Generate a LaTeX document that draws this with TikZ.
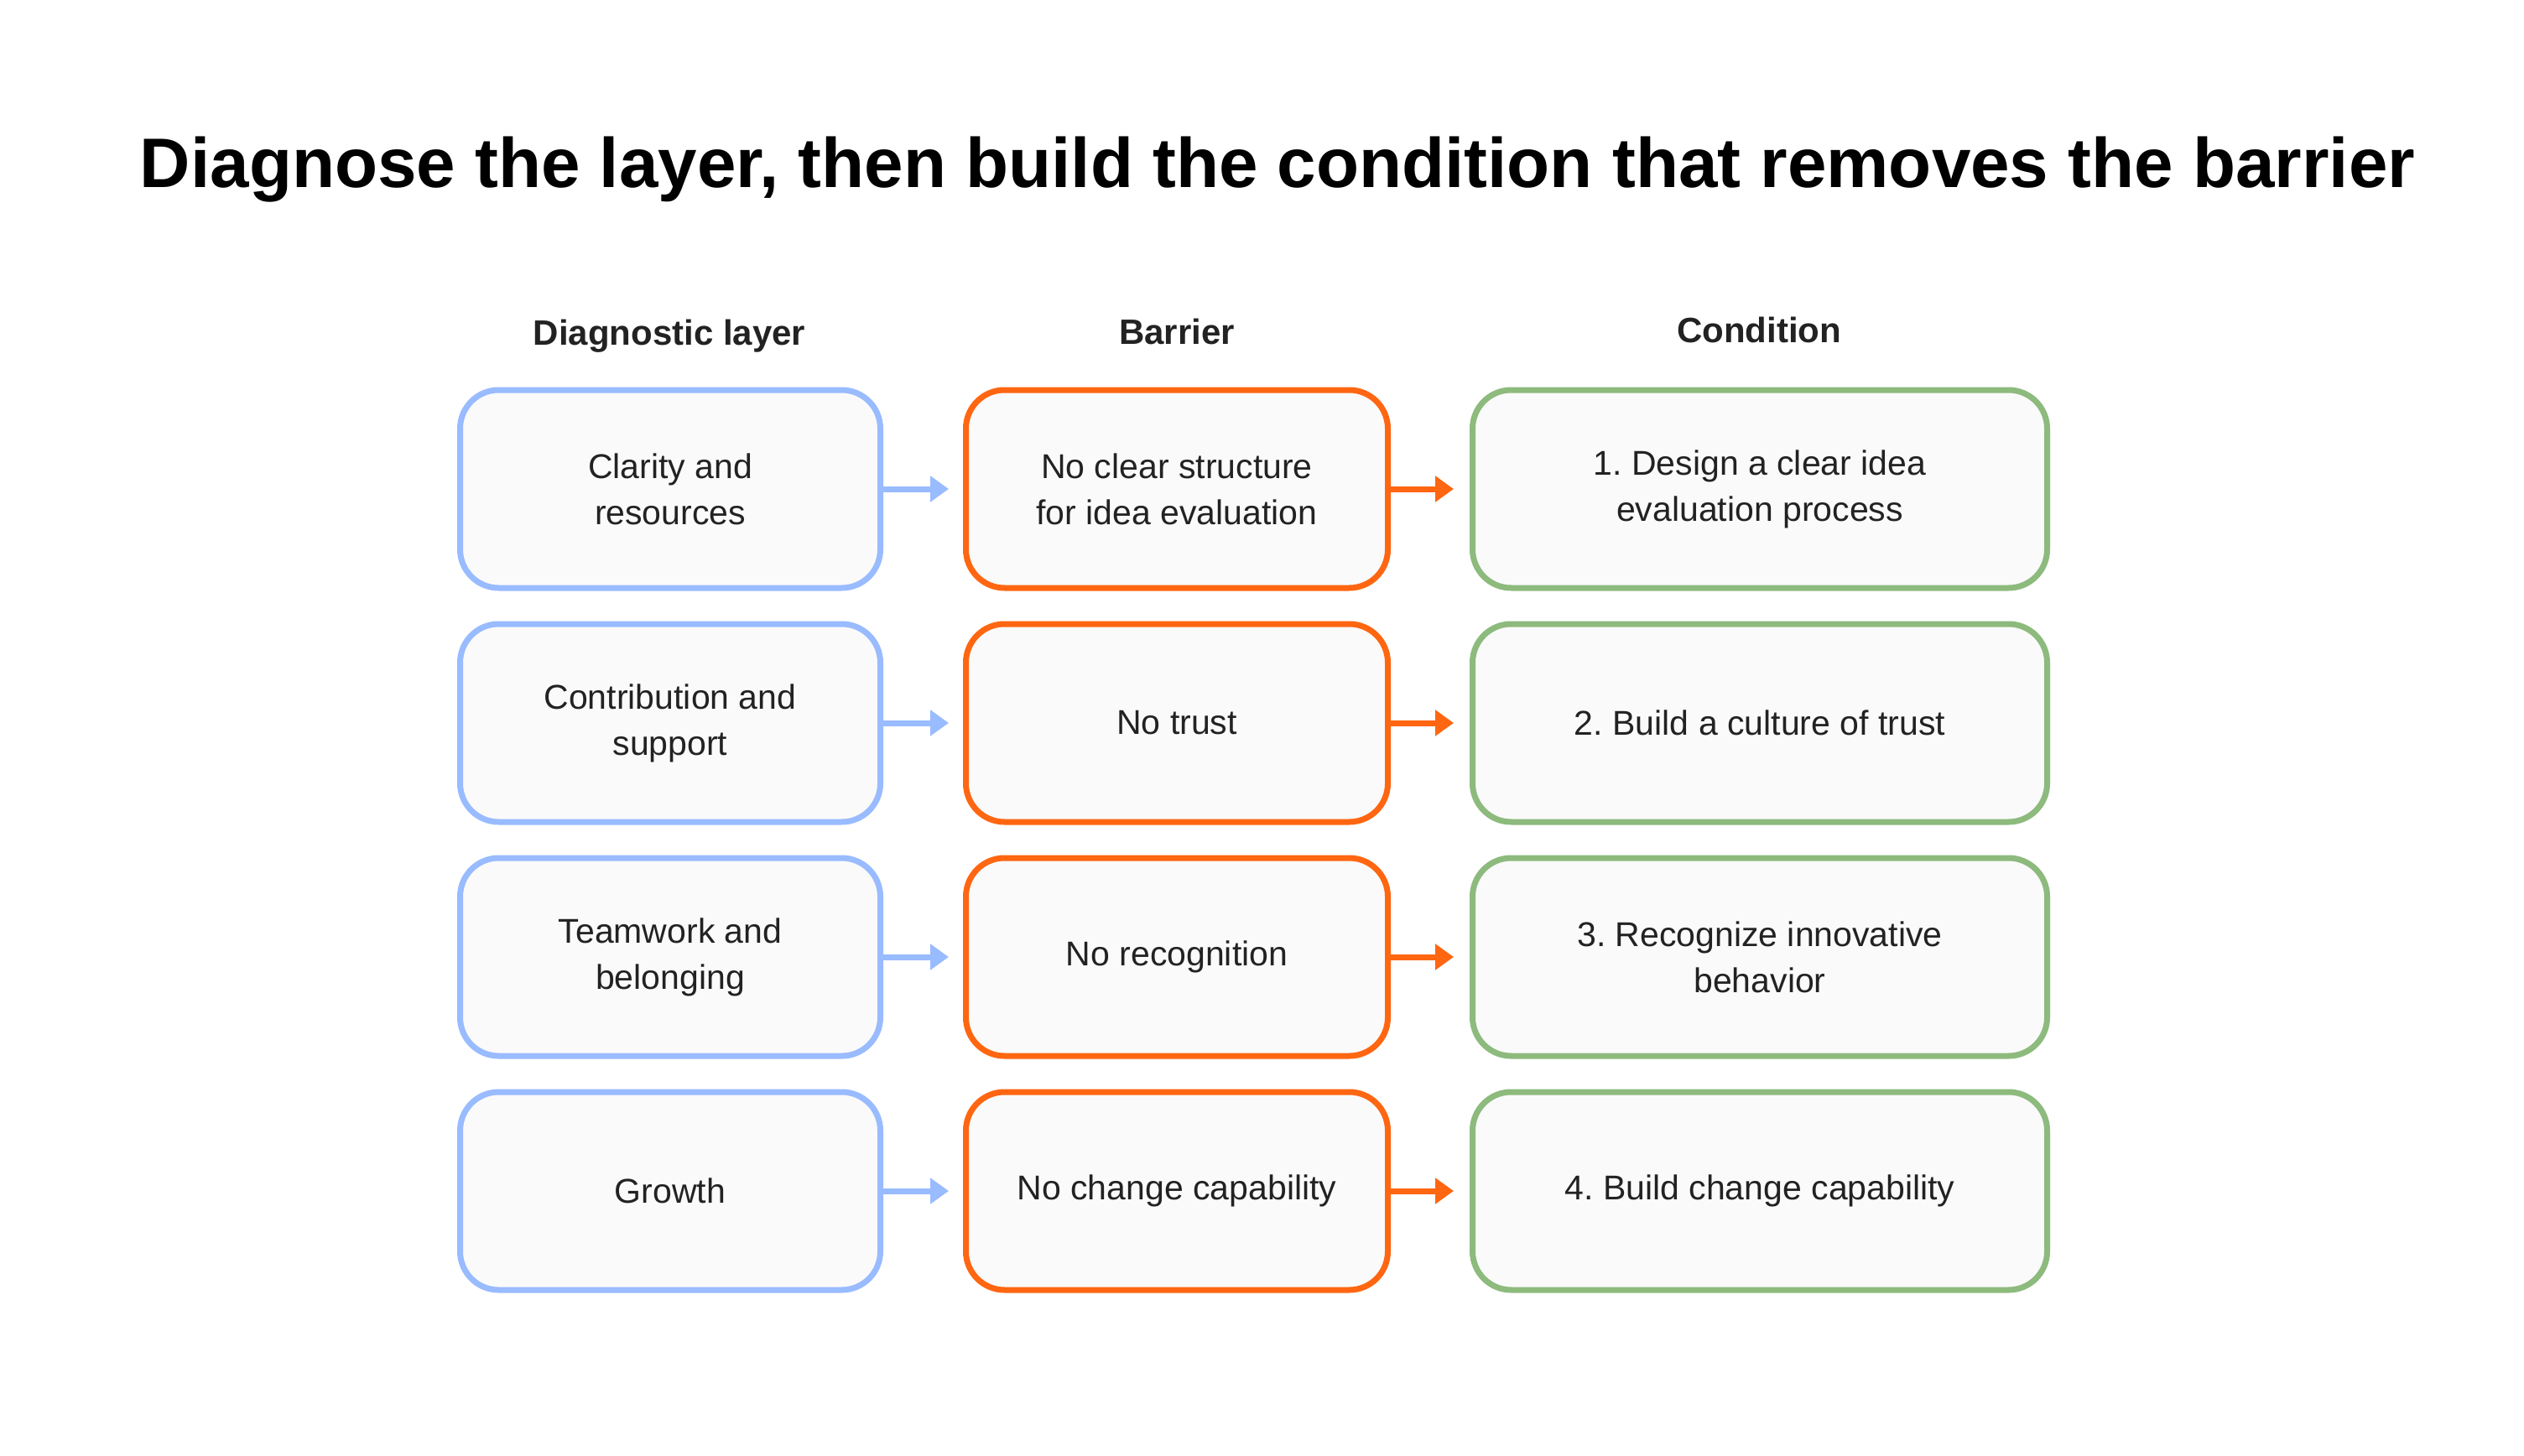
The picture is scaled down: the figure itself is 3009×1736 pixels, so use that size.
\documentclass[tikz,border=0pt]{standalone}
\usepackage{fontspec}
\setmainfont{Liberation Sans}
\usetikzlibrary{arrows.meta}
\definecolor{cblue}{HTML}{99BBFF}
\definecolor{corange}{HTML}{FF6611}
\definecolor{cgreen}{HTML}{8DBA7D}
\definecolor{cfill}{HTML}{FAFAFA}
\definecolor{ctext}{HTML}{222222}
\frenchspacing
\begin{document}
\begin{tikzpicture}[x=1pt,y=-1pt,
  boxs/.style={draw,line width=7pt,rounded corners=46pt,fill=cfill,text=ctext,align=center,font=\fontsize{41}{55}\selectfont\frenchspacing},
  hdr/.style={font=\fontsize{42}{50}\selectfont\bfseries,text=ctext},
  conn/.style={line width=7pt,-{Triangle[length=22pt,width=30pt]}}]
\useasboundingbox (0,0) rectangle (3009,1736);
\node[font=\bfseries] (title) at (1523,202) {\resizebox{2712pt}{!}{Diagnose the layer, then build the condition that removes the barrier}};
\node[hdr] (h1) at (798,401) {Diagnostic layer};
\node[hdr] (h2) at (1403,395) {Barrier};
\node[hdr] (h3) at (2097,393) {Condition};
\foreach \i/\a/\b/\c in {0/{Clarity and\\resources}/{No clear structure\\for idea evaluation}/{1. Design a clear idea\\evaluation process},
  1/{Contribution and\\support}/{No trust}/{2. Build a culture of trust},
  2/{Teamwork and\\belonging}/{No recognition}/{3. Recognize innovative\\behavior},
  3/{Growth}/{No change capability}/{4. Build change capability}}{
  \pgfmathsetmacro{\yy}{583+279*\i}
  \node[boxs,draw=cblue,minimum width=501pt,minimum height=236pt] (a\i) at (799,\yy) {\a};
  \node[boxs,draw=corange,minimum width=503pt,minimum height=236pt] (b\i) at (1403,\yy) {\b};
  \node[boxs,draw=cgreen,minimum width=685pt,minimum height=236pt] (c\i) at (2098,\yy) {\c};
  \draw[conn,cblue] (a\i.east) -- ++(78,0) coordinate (ea\i);
  \draw[conn,corange] (b\i.east) -- ++(75,0) coordinate (eb\i);
}
\end{tikzpicture}
\end{document}
